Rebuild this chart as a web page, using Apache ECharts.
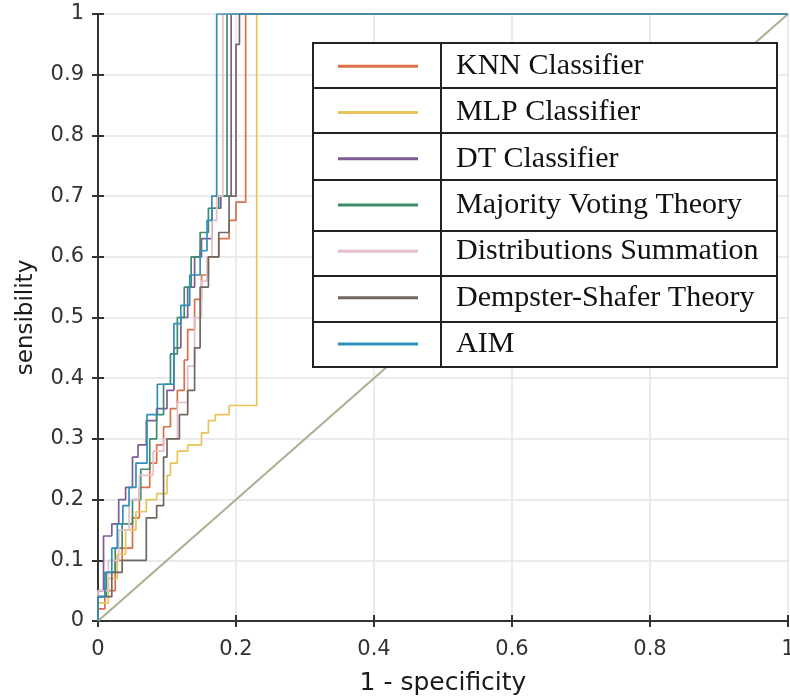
<!DOCTYPE html>
<html>
<head>
<meta charset="utf-8">
<script src="https://cdn.jsdelivr.net/npm/echarts@6/dist/echarts.min.js"></script>
<style>
  html, body { margin: 0; padding: 0; background: #fff; }
  #chart { width: 790px; height: 699px; }
</style>
</head>
<body>
<div id="chart"></div>
<script>
// ROC curves (x = 1 - specificity, y = sensibility)
const knnX = [0, 0.01, 0.025, 0.035, 0.05, 0.06, 0.075, 0.085, 0.095, 0.105, 0.115, 0.125, 0.13, 0.14, 0.15, 0.16, 0.175, 0.19, 0.2, 0.214, 1]
const knnY = [0, 0.02, 0.05, 0.1, 0.12, 0.17, 0.22, 0.26, 0.29, 0.32, 0.35, 0.38, 0.43, 0.48, 0.53, 0.57, 0.6, 0.63, 0.66, 0.69, 1]

const mlpX = [0, 0.015, 0.028, 0.04, 0.055, 0.07, 0.085, 0.1, 0.105, 0.115, 0.13, 0.15, 0.16, 0.17, 0.19, 0.205, 0.23, 1]
const mlpY = [0, 0.03, 0.07, 0.11, 0.15, 0.18, 0.2, 0.21, 0.24, 0.26, 0.28, 0.29, 0.31, 0.33, 0.34, 0.355, 0.355, 1]

const dtX = [0, 0.008, 0.02, 0.03, 0.04, 0.05, 0.058, 0.07, 0.085, 0.1, 0.11, 0.12, 0.13, 0.14, 0.15, 0.165, 0.178, 0.193, 1]
const dtY = [0, 0.05, 0.14, 0.16, 0.2, 0.22, 0.27, 0.29, 0.33, 0.35, 0.38, 0.45, 0.5, 0.55, 0.6, 0.63, 0.68, 0.7, 1]

const mvX = [0, 0.012, 0.025, 0.035, 0.05, 0.062, 0.075, 0.085, 0.095, 0.105, 0.115, 0.125, 0.135, 0.148, 0.16, 0.175, 0.187, 1]
const mvY = [0, 0.04, 0.08, 0.12, 0.16, 0.2, 0.25, 0.3, 0.34, 0.39, 0.44, 0.5, 0.55, 0.6, 0.64, 0.68, 0.7, 1]

const dsumX = [0, 0.015, 0.03, 0.045, 0.06, 0.08, 0.095, 0.115, 0.13, 0.14, 0.15, 0.158, 0.165, 0.172, 0.181, 1]
const dsumY = [0, 0.05, 0.1, 0.15, 0.2, 0.24, 0.28, 0.3, 0.36, 0.42, 0.5, 0.56, 0.6, 0.66, 0.7, 1]

const dstX = [0, 0.02, 0.035, 0.07, 0.085, 0.095, 0.1, 0.118, 0.13, 0.14, 0.148, 0.16, 0.175, 0.19, 0.2, 0.205, 1]
const dstY = [0, 0.04, 0.08, 0.1, 0.17, 0.19, 0.27, 0.3, 0.34, 0.38, 0.45, 0.55, 0.6, 0.64, 0.7, 0.95, 1]

const aimX = [0, 0.01, 0.02, 0.028, 0.036, 0.045, 0.055, 0.071, 0.086, 0.11, 0.12, 0.133, 0.148, 0.158, 0.165, 0.172, 1]
const aimY = [0, 0.04, 0.08, 0.12, 0.16, 0.19, 0.22, 0.26, 0.34, 0.39, 0.49, 0.52, 0.57, 0.61, 0.66, 0.7, 1]

const chanceX = [0, 1]
const chanceY = [0, 1]

const names = ['KNN Classifier', 'MLP Classifier', 'DT Classifier', 'Majority Voting Theory',
  'Distributions Summation', 'Dempster-Shafer Theory', 'AIM']
const colors = ['#d9704a', '#e8c35a', '#7e5a96', '#3d8c6a', '#e6bfca', '#6f6861', '#2f8fba']
const curves = [[knnX, knnY], [mlpX, mlpY], [dtX, dtY], [mvX, mvY], [dsumX, dsumY], [dstX, dstY], [aimX, aimY]]

const zip = (xs, ys) => xs.map((x, i) => [x, ys[i]])

let seriesList = curves.map((c, i) => ({
  name: names[i],
  type: 'line',
  step: 'start',
  symbol: 'none',
  data: zip(c[0], c[1]),
  lineStyle: { color: colors[i], width: 1.7 },
  itemStyle: { color: colors[i] },
}))
seriesList.unshift({
  name: 'chance',
  type: 'line',
  symbol: 'none',
  data: zip(chanceX, chanceY),
  lineStyle: { color: '#a9b08f', width: 2 },
})

// legend table (box + row/column rules), on its own layer above the plot
const tbl = { left: 313, top: 43, right: 777, bottom: 367, col: 441 }
const rowLines = [88, 133, 180, 231, 276, 322]

const axisBase = {
  axisLine: { show: true, lineStyle: { color: '#333', width: 2 } },
  axisTick: { show: true, inside: true, length: 6, lineStyle: { color: '#333', width: 2 } },
}

const option = {
  backgroundColor: '#fff',
  animation: false,
  grid: { left: 98, right: 2, top: 14, bottom: 78, outerBoundsMode: 'none' },
  legend: {
    data: names,
    orient: 'vertical',
    left: 338,
    top: 43,
    padding: 0,
    itemGap: 0,
    itemWidth: 80,
    itemHeight: 3,
    icon: 'rect',
    zlevel: 1,
    z: 10,
    selectedMode: false,
    textStyle: {
      fontFamily: 'Liberation Serif',
      fontSize: 30,
      color: '#111',
      lineHeight: 46.3,
      padding: [0, 0, 0, 33],
    },
  },
  graphic: [
    {
      type: 'rect', zlevel: 1, z: 1,
      shape: { x: tbl.left, y: tbl.top, width: tbl.right - tbl.left, height: tbl.bottom - tbl.top },
      style: { fill: '#fff', stroke: '#222', lineWidth: 2 },
    },
    {
      type: 'line', zlevel: 1, z: 2,
      shape: { x1: tbl.col, y1: tbl.top, x2: tbl.col, y2: tbl.bottom },
      style: { stroke: '#222', lineWidth: 2 },
    },
    ...rowLines.map(y => ({
      type: 'line', zlevel: 1, z: 2,
      shape: { x1: tbl.left, y1: y, x2: tbl.right, y2: y },
      style: { stroke: '#222', lineWidth: 2 },
    })),
  ],
  xAxis: [
    {
      ...axisBase,
      type: 'value', min: 0, max: 1, interval: 0.2,
      name: '1 - specificity',
      nameLocation: 'middle',
      nameGap: 50,
      nameTextStyle: { fontFamily: 'DejaVu Sans', fontSize: 25, color: '#1a1a1a' },
      axisLabel: { fontFamily: 'DejaVu Sans', fontSize: 21, color: '#333', margin: 18 },
      splitLine: { show: true, lineStyle: { color: '#e4e4e4', width: 1.5 } },
    },
    {
      ...axisBase,
      type: 'value', min: 0, max: 1, interval: 0.2, position: 'top',
      axisLabel: { show: false },
      splitLine: { show: false },
    },
  ],
  yAxis: [
    {
      ...axisBase,
      type: 'value', min: 0, max: 1, interval: 0.1,
      name: 'sensibility',
      nameLocation: 'middle',
      nameGap: 60,
      nameTextStyle: { fontFamily: 'DejaVu Sans', fontSize: 23, color: '#1a1a1a' },
      axisLabel: { fontFamily: 'DejaVu Sans', fontSize: 21, color: '#333', margin: 14 },
      splitLine: { show: true, lineStyle: { color: '#e4e4e4', width: 1.5 } },
    },
    {
      ...axisBase,
      type: 'value', min: 0, max: 1, interval: 0.1, position: 'right',
      axisLabel: { show: false },
      splitLine: { show: false },
    },
  ],
  series: seriesList,
}

const chart = echarts.init(document.getElementById('chart'))
chart.setOption(option)
</script>
</body>
</html>
